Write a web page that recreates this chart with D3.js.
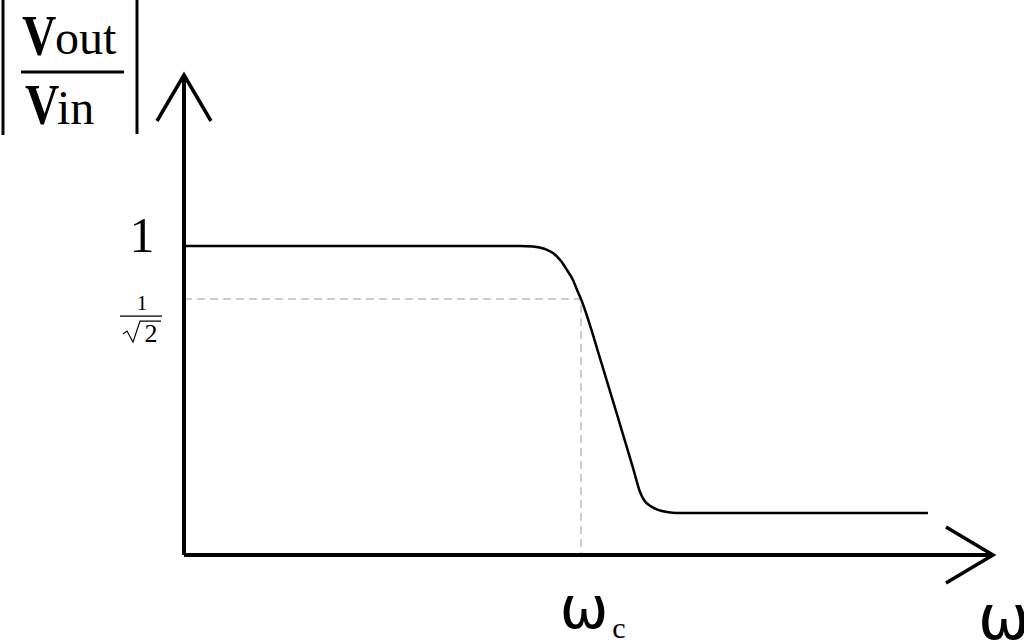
<!DOCTYPE html>
<html><head><meta charset="utf-8">
<script src="https://cdn.jsdelivr.net/npm/d3@7"></script>
<style>html,body{margin:0;padding:0;background:#fff;}svg{display:block;}</style>
</head><body>
<svg id="c" width="1024" height="642"></svg>
<script>
// Data (ω in arbitrary units 0..100, |Vout/Vin| gain)
const omega = [0, 41.53, 43.14, 44.62, 45.61, 46.60, 47.34, 48.08, 48.58, 49.07, 51.67, 54.14, 55.50, 56.37, 56.86, 57.60, 58.59, 59.70, 60.94, 91.96];
const gain  = [1.0, 1.0, 0.998, 0.990, 0.977, 0.951, 0.922, 0.890, 0.858, 0.828, 0.615, 0.401, 0.282, 0.204, 0.178, 0.159, 0.146, 0.139, 0.136, 0.136];
const cutoffOmega = 49.07;
const cutoffGain = 0.828;
const yTickLabels = ["1"];
const xMax = 100, yMax = 1.553;

const svg = d3.select("#c");
const x = d3.scaleLinear().domain([0, xMax]).range([184, 993]);
const y = d3.scaleLinear().domain([0, yMax]).range([555, 75]);
const pts = omega.map((w, i) => [w, gain[i]]);

// dashed guides
svg.append("path")
  .attr("d", `M${x(0)},${y(cutoffGain)}H${x(cutoffOmega)}V${y(0)}`)
  .attr("fill", "none").attr("stroke", "#cccccc").attr("stroke-width", 2)
  .attr("stroke-dasharray", "8,5");

// axes
const ax = svg.append("g").attr("stroke", "#000").attr("fill", "none").attr("stroke-linecap", "butt");
ax.append("line").attr("x1", x(0)).attr("y1", y(0)).attr("x2", x(0)).attr("y2", y(yMax)).attr("stroke-width", 4);
ax.append("line").attr("x1", x(0)).attr("y1", y(0)).attr("x2", x(xMax)).attr("y2", y(0)).attr("stroke-width", 4);
// arrowheads
ax.append("path").attr("d", `M${x(0)-27},${y(yMax)+46}L${x(0)},${y(yMax)}L${x(0)+27},${y(yMax)+46}`).attr("stroke-width", 3.5).attr("stroke-linejoin","miter");
ax.append("path").attr("d", `M${x(xMax)-47},${y(0)-28}L${x(xMax)},${y(0)}L${x(xMax)-47},${y(0)+28}`).attr("stroke-width", 3.5).attr("stroke-linejoin","miter");

// curve
const line = d3.line().x(d => x(d[0])).y(d => y(d[1])).curve(d3.curveMonotoneX);
svg.append("path").datum(pts).attr("d", line).attr("fill", "none").attr("stroke", "#000").attr("stroke-width", 2.5);

const serif = "'Liberation Serif','DejaVu Serif',serif";
const sans = "'DejaVu Sans','Liberation Sans',sans-serif";

// y label "1"
svg.append("text").attr("x", 142).attr("y", y(1) + 6).attr("text-anchor", "middle")
  .attr("font-family", serif).attr("font-size", 50).text(yTickLabels[0]);

// 1/sqrt(2)
const fy = y(cutoffGain);
const fr = svg.append("g").attr("font-family", serif);
fr.append("text").attr("x", 142).attr("y", fy + 11).attr("text-anchor", "middle").attr("font-size", 21).text("1");
fr.append("line").attr("x1", 120).attr("x2", 162).attr("y1", fy + 17).attr("y2", fy + 17).attr("stroke", "#000").attr("stroke-width", 1.2);
fr.append("path").attr("d", `M123,${fy+35}L127,${fy+32}L133,${fy+43}L140,${fy+22}H161`)
  .attr("fill", "none").attr("stroke", "#000").attr("stroke-width", 1.2).attr("stroke-linejoin", "miter");
fr.append("text").attr("x", 151).attr("y", fy + 43).attr("text-anchor", "middle").attr("font-size", 26).text("2");

// ω_c
svg.append("text").attr("x", x(cutoffOmega) + 3).attr("y", 628).attr("text-anchor", "middle")
  .attr("font-family", sans).attr("font-size", 58).text("ω");
svg.append("text").attr("x", 619).attr("y", 638).attr("text-anchor", "middle")
  .attr("font-family", serif).attr("font-size", 30).text("c");
// ω axis label
svg.append("text").attr("x", 1004).attr("y", 639).attr("text-anchor", "middle")
  .attr("font-family", sans).attr("font-size", 62).text("ω");

// |Vout/Vin|
const t = svg.append("g").attr("font-family", serif);
t.append("line").attr("x1", 3).attr("x2", 3).attr("y1", 0).attr("y2", 135).attr("stroke", "#000").attr("stroke-width", 3);
t.append("line").attr("x1", 137).attr("x2", 137).attr("y1", 0).attr("y2", 134).attr("stroke", "#000").attr("stroke-width", 3);
t.append("line").attr("x1", 21).attr("x2", 124).attr("y1", 72).attr("y2", 72).attr("stroke", "#000").attr("stroke-width", 3);
t.append("text").attr("transform", "translate(22,55) scale(0.82,1)").attr("font-size", 58).attr("font-weight", "bold").text("V");
t.append("text").attr("x", 55).attr("y", 54).attr("font-size", 48).text("out");
t.append("text").attr("transform", "translate(25,124) scale(0.82,1)").attr("font-size", 58).attr("font-weight", "bold").text("V");
t.append("text").attr("x", 57).attr("y", 124).attr("font-size", 48).text("in");
</script>
</body></html>
